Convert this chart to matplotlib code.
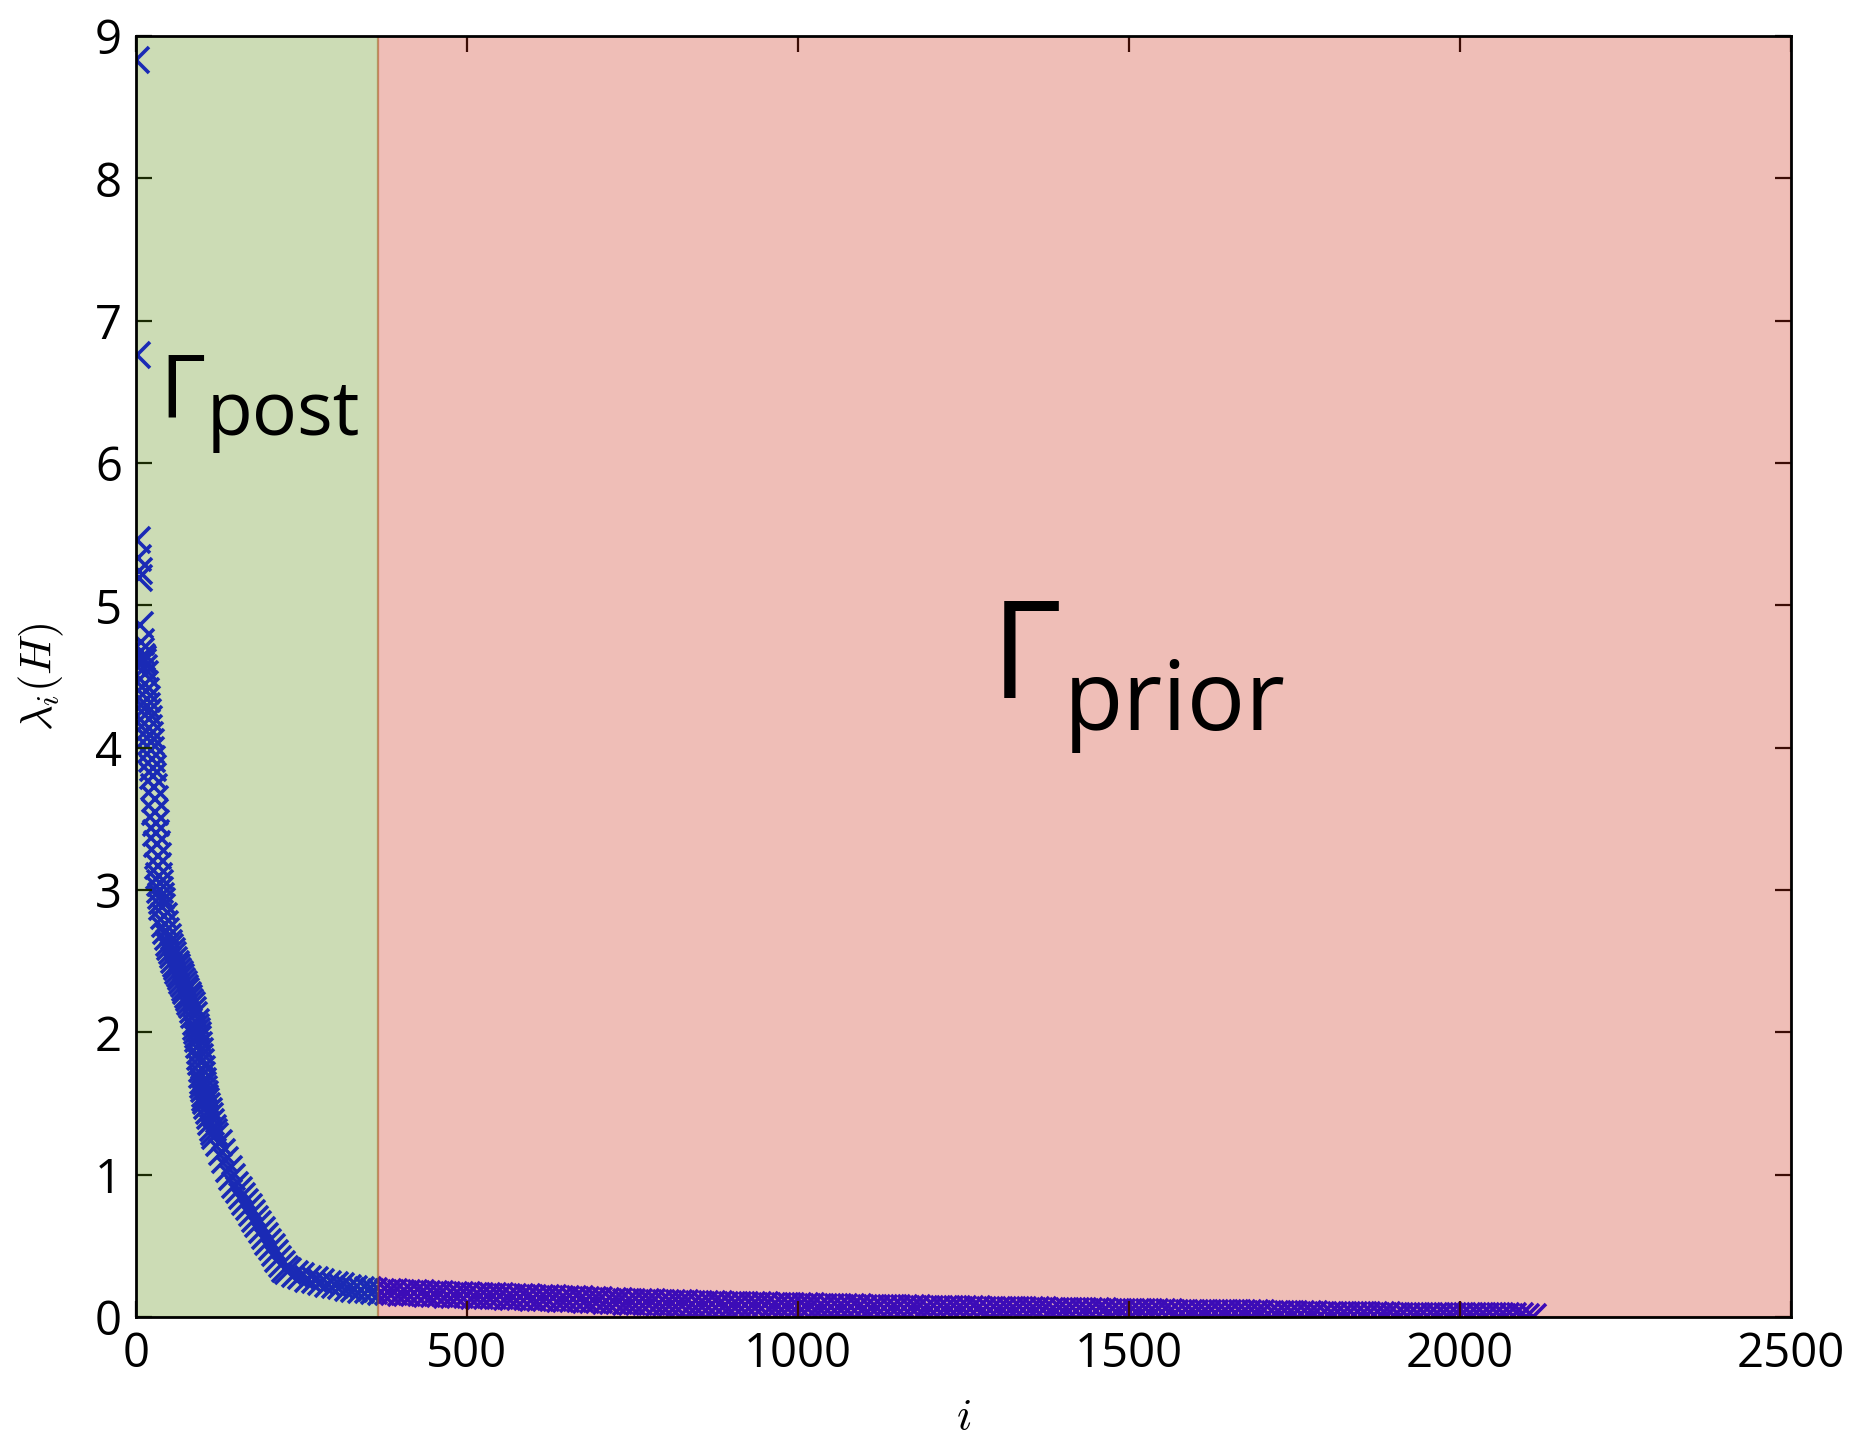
import numpy as np
import matplotlib.pyplot as plt

# eigenvalues lambda_i(H)
head_i = [0, 1, 2, 3, 4, 5, 6, 7, 8, 9, 10, 11, 12, 13, 14, 15, 16, 17, 18, 19,
          20, 21, 22, 23, 24, 25, 26, 27, 28, 29, 30, 31, 32, 33, 34, 35, 36, 37, 38, 39,
          40, 42, 44, 46, 48, 50, 52, 54, 56, 58, 60, 62, 64, 66, 68, 70, 72, 74, 76, 78,
          80, 82, 84, 86, 88, 90, 91, 92, 93, 94, 95, 96, 97, 98, 99, 100, 101, 102, 103,
          104, 105, 106, 108, 110, 112, 114, 116, 118, 120,
          125, 130, 135, 140, 145, 150, 155, 160, 165, 170, 175, 180, 185, 190, 195, 200,
          205, 210, 215, 220, 225, 230, 240, 250, 260, 270, 280, 290, 300, 310, 320, 330,
          340, 350, 360]
head_val = [8.83, 6.76, 5.46, 5.33, 5.24, 5.19, 4.86, 4.74, 4.68, 4.64, 4.62, 4.60, 4.56,
            4.52, 4.45, 4.40, 4.34, 4.29, 4.25, 4.20,
            4.14, 4.09, 4.04, 3.98, 3.92, 3.86, 3.80, 3.72, 3.64, 3.55, 3.47, 3.40, 3.32,
            3.24, 3.17, 3.10, 3.05, 3.00, 2.96, 2.92,
            2.88, 2.82, 2.76, 2.71, 2.67, 2.63, 2.60, 2.57, 2.54, 2.51, 2.48, 2.46, 2.43,
            2.41, 2.39, 2.36, 2.34, 2.31, 2.29, 2.26,
            2.24, 2.21, 2.19, 2.16, 2.12, 2.07, 2.04, 2.01, 1.98, 1.95, 1.91, 1.87, 1.83,
            1.79, 1.74, 1.70, 1.66, 1.63, 1.60,
            1.57, 1.54, 1.52, 1.48, 1.45, 1.41, 1.37, 1.33, 1.30, 1.27,
            1.22, 1.16, 1.10, 1.04, 0.98, 0.93, 0.89, 0.85, 0.81, 0.77, 0.73, 0.69, 0.65,
            0.61, 0.57, 0.53,
            0.49, 0.45, 0.41, 0.37, 0.34, 0.32, 0.30, 0.285, 0.27, 0.26, 0.245, 0.235,
            0.225, 0.215, 0.207, 0.200,
            0.193, 0.187, 0.181]

tail_i = np.arange(370, 2120, 10)
tail_val = [0.176, 0.174, 0.172, 0.170, 0.169, 0.167, 0.165, 0.163, 0.161, 0.159, 0.157, 0.156, 0.154, 0.152,
            0.150, 0.149, 0.147, 0.146, 0.144, 0.142, 0.141, 0.139, 0.137, 0.136, 0.134, 0.133, 0.131, 0.129, 0.128, 0.126,
            0.124, 0.122, 0.119, 0.117, 0.115, 0.112, 0.110, 0.108, 0.107, 0.105,
            0.104, 0.102, 0.101, 0.100, 0.098, 0.097, 0.095, 0.094, 0.093, 0.091, 0.090, 0.089, 0.087, 0.086,
            0.085, 0.084, 0.083, 0.082, 0.081, 0.080, 0.079, 0.078, 0.077, 0.076, 0.075, 0.074, 0.073, 0.072,
            0.071, 0.070, 0.069, 0.068, 0.067, 0.066, 0.066, 0.065,
            0.064, 0.063, 0.062, 0.062, 0.061, 0.060, 0.059, 0.058, 0.058, 0.057, 0.056, 0.055, 0.054, 0.054,
            0.053, 0.052, 0.051, 0.051, 0.050, 0.049, 0.048, 0.048, 0.047,
            0.046, 0.046, 0.045, 0.044, 0.043, 0.043, 0.042, 0.041, 0.040, 0.040, 0.039, 0.038, 0.037, 0.037,
            0.036, 0.035, 0.034, 0.034, 0.033, 0.032,
            0.032, 0.031, 0.031, 0.030, 0.030, 0.029, 0.029, 0.028, 0.028, 0.027, 0.027, 0.026, 0.026, 0.025, 0.025,
            0.024, 0.023, 0.022, 0.021, 0.021, 0.020, 0.019, 0.018, 0.017, 0.017, 0.016, 0.015, 0.014, 0.013, 0.013,
            0.012, 0.012, 0.011, 0.011, 0.010, 0.010, 0.009, 0.009, 0.009, 0.008, 0.008, 0.008, 0.007, 0.007,
            0.007, 0.006, 0.006, 0.006, 0.005, 0.005, 0.005, 0.004, 0.004, 0.004, 0.003, 0.003]

split = 365
xmax, ymax = 2500, 9

plt.rcParams['font.family'] = ['Open Sans', 'DejaVu Sans']

fig = plt.figure(figsize=(9.275, 7.195), dpi=200)
ax = fig.add_axes([0.0733, 0.0848, 0.8922, 0.8902])

idx = np.concatenate([head_i, tail_i])
lam = np.concatenate([head_val, tail_val])
ax.plot(idx, lam, 'x', color='b', ms=9.5, mew=1.3, zorder=1)

# shaded regions sit on top of the markers (that is why the tail looks purple)
green = (88/255, 142/255, 12/255)
red = (202/255, 42/255, 18/255)
ax.axvspan(0, split, facecolor=green, edgecolor=green, lw=0.8, alpha=0.3, zorder=3)
ax.axvspan(split, xmax, facecolor=red, edgecolor=red, lw=0.8, alpha=0.3, zorder=3)

ax.set_xlim(0, xmax)
ax.set_ylim(0, ymax)
ax.set_xticks(np.arange(0, 2501, 500))
ax.set_yticks(np.arange(0, 10, 1))
ax.tick_params(direction='in', top=True, right=True, length=5.6, width=0.8,
               pad=5, labelsize=17)
for s in ax.spines.values():
    s.set_linewidth(1.0)
    s.set_zorder(4)

ax.set_xlabel(r'$i$', fontsize=16, math_fontfamily='cm')
ax.set_ylabel(r'$\lambda_i(H)$', fontsize=16, math_fontfamily='cm')
ax.xaxis.set_label_coords(0.5, -0.061)
ax.yaxis.set_label_coords(-0.042, 0.5)

ax.text(0.014, 0.7018, 'Γ', fontsize=31.8, transform=ax.transAxes, va='baseline', ha='left')
ax.text(0.0429, 0.6885, 'post', fontsize=27, transform=ax.transAxes, va='baseline', ha='left')
ax.text(0.5166, 0.4832, 'Γ', fontsize=49, transform=ax.transAxes, va='baseline', ha='left')
ax.text(0.5607, 0.4582, 'prior', fontsize=35, transform=ax.transAxes, va='baseline', ha='left')

fig.savefig('out.png', dpi=200)
